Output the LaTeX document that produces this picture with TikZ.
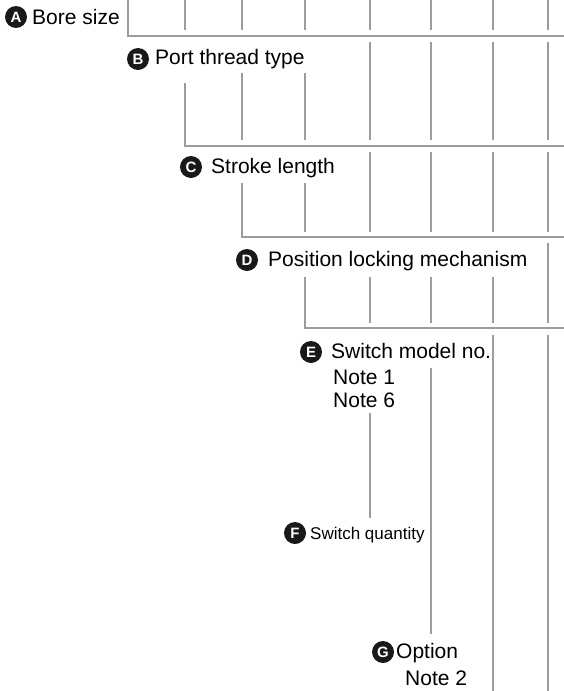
\documentclass[tikz,border=0pt]{standalone}
\usepackage{fontspec}
\setmainfont{Liberation Sans}
\definecolor{lineg}{RGB}{155,155,160}
\definecolor{badge}{RGB}{25,25,25}
\tikzset{
  ln/.style={draw=lineg, line width=1.8pt},
  lbl/.style={anchor=base west, inner sep=0pt, font=\fontsize{21}{24}\selectfont},
  small/.style={anchor=base west, inner sep=0pt, font=\fontsize{17}{20}\selectfont},
  badgec/.style={circle, fill=badge, text=white, minimum size=22pt, inner sep=0pt, font=\fontsize{15}{15}\selectfont\bfseries},
}
\begin{document}
\begin{tikzpicture}[x=1pt,y=-1pt]
\useasboundingbox (0,0) rectangle (564,691);
% A row
\draw[ln] (128,0) -- (128,36) -- (564,36);
\foreach \x in {185,242,305,370,431,493,548} \draw[ln] (\x,0) -- (\x,30);
% B row
\foreach \x in {370,431,493,548} \draw[ln] (\x,42) -- (\x,140);
\draw[ln] (185,83) -- (185,146) -- (564,146);
\foreach \x in {242,305} \draw[ln] (\x,73) -- (\x,140);
% C row
\foreach \x in {370,431,493,548} \draw[ln] (\x,152) -- (\x,232);
\draw[ln] (242,183) -- (242,237) -- (564,237);
\draw[ln] (305,183) -- (305,232);
% D row
\draw[ln] (548,243) -- (548,323);
\draw[ln] (305,277) -- (305,328) -- (564,328);
\foreach \x in {370,431,493} \draw[ln] (\x,277) -- (\x,323);
% E row and below
\foreach \x in {493,548} \draw[ln] (\x,335) -- (\x,691);
\draw[ln] (431,368) -- (431,634);
\draw[ln] (370,413) -- (370,518);
% labels
\node[badgec] (cA) at (16,17) {A};
\node[lbl] (tA) at (32,24) {Bore size};
\node[badgec] (cB) at (138,59) {B};
\node[lbl] (tB) at (155,64) {Port thread type};
\node[badgec] (cC) at (191,167) {C};
\node[lbl] (tC) at (211,173) {Stroke length};
\node[badgec] (cD) at (247,260) {D};
\node[lbl] (tD) at (268,266) {Position locking mechanism};
\node[badgec] (cE) at (311,352) {E};
\node[lbl] (tE) at (331,358) {Switch model no.};
\node[lbl] (n1) at (333,384) {Note 1};
\node[lbl] (n6) at (333,407) {Note 6};
\node[badgec] (cF) at (295,533) {F};
\node[small] (tF) at (310,539) {Switch quantity};
\node[badgec] (cG) at (383,652) {G};
\node[lbl] (tG) at (396,658) {Option};
\node[lbl] (n2) at (405,685) {Note 2};
\end{tikzpicture}
\end{document}
